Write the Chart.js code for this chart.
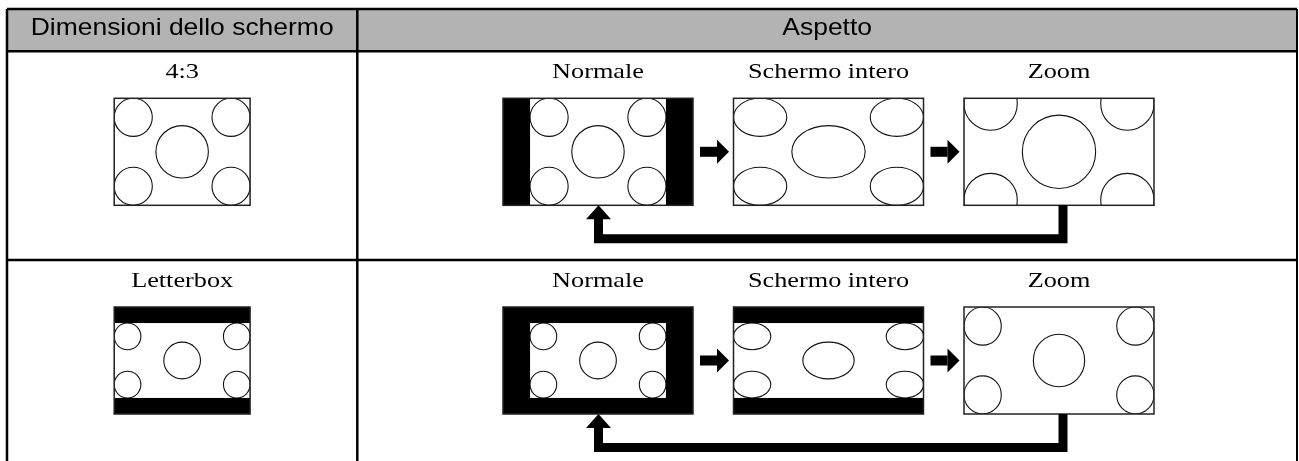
<!DOCTYPE html>
<html>
<head>
<meta charset="utf-8">
<script src="https://cdn.jsdelivr.net/npm/chart.js@4.4.1/dist/chart.umd.min.js"></script>
<style>
  html, body { margin: 0; padding: 0; background: #fff; }
  #wrap { width: 1299px; height: 461px; }
</style>
</head>
<body>
<div id="wrap"><canvas id="schermo" width="1299" height="461"></canvas></div>
<script>
// testi della tabella
const intestazioni = ["Dimensioni dello schermo", "Aspetto"];
const dimensioniSchermo = ["4:3", "Letterbox"];
const modiAspetto = ["Normale", "Schermo intero", "Zoom"];

// quadro sorgente: rapporto larghezza/altezza come disegnato, quota di altezza con l'immagine
const rapportoQuadro = [1.27, 1.27];
const quotaImmagine = [1, 0.70];

// cerchi dell'immagine: ancoraggio (0 bordo, 0.5 centro, 1 bordo opposto), raggio su altezza
const cerchiAncoraX = [0, 1, 0.5, 0, 1];
const cerchiAncoraY = [0, 0, 0.5, 1, 1];
const cerchiRaggio = [0.178, 0.178, 0.245, 0.178, 0.178];

// impaginazione (unita' degli assi)
const griglia = { sinistra: 7, destra: 1297, alto: 9, testata: 51.3, righe: [51.3, 260], basso: 480, colonna: 357.3 };
const pannello = { alto: 47, altezza: 107, larghezza: 190, primo: 503, passo: 230.5, base: 26.8 };

function centroPannello(j) {
    return pannello.primo + j * pannello.passo + pannello.larghezza / 2;
}

// come il quadro sorgente finisce sullo schermo 16:9 per ogni modo
function inquadra(modo, x0, y0, W, H, A, f) {
    let sx, sy;
    if (modo === 0) { sx = H; sy = H; }
    else if (modo === 1) { sx = W / A; sy = H; }
    else { sx = W / A; sy = Math.max(sx, H / f); }
    const cw = A * sx, ch = f * sy;
    return { cx: x0 + (W - cw) / 2, cy: y0 + (H - ch) / 2, cw: cw, ch: ch, allungo: sx / sy };
}

function disegnaQuadro(ctx, px, py, x0, y0, W, H, g) {
    const L = px(x0), T = py(y0), R = px(x0 + W), B = py(y0 + H);
    ctx.save();
    ctx.beginPath(); ctx.rect(L, T, R - L, B - T); ctx.clip();
    ctx.fillStyle = "#000"; ctx.fillRect(L, T, R - L, B - T);
    const cl = px(g.cx), ct = py(g.cy), cr = px(g.cx + g.cw), cb = py(g.cy + g.ch);
    ctx.fillStyle = "#fff"; ctx.fillRect(cl, ct, cr - cl, cb - ct);
    ctx.beginPath(); ctx.rect(cl, ct, cr - cl, cb - ct); ctx.clip();
    ctx.strokeStyle = "#111"; ctx.lineWidth = 1.1;
    cerchiRaggio.forEach((r, k) => {
        const ry = r * g.ch, rx = ry * g.allungo;
        const cx = g.cx + rx + cerchiAncoraX[k] * (g.cw - 2 * rx);
        const cy = g.cy + ry + cerchiAncoraY[k] * (g.ch - 2 * ry);
        ctx.beginPath();
        ctx.ellipse(px(cx), py(cy), Math.abs(px(cx + rx) - px(cx)), Math.abs(py(cy + ry) - py(cy)), 0, 0, Math.PI * 2);
        ctx.stroke();
    });
    ctx.restore();
    ctx.strokeStyle = "#222"; ctx.lineWidth = 1.5;
    ctx.strokeRect(L, T, R - L, B - T);
}

function scrivi(ctx, testo, x, y, font, allarga) {
    ctx.save();
    ctx.translate(x, y);
    ctx.scale(allarga, 1);
    ctx.font = font;
    ctx.fillStyle = "#000";
    ctx.textAlign = "center";
    ctx.textBaseline = "alphabetic";
    ctx.fillText(testo, 0, 0);
    ctx.restore();
}

const tabella = {
    id: "tabella",
    beforeDatasetsDraw(chart) {
        const ctx = chart.ctx;
        const px = v => chart.scales.x.getPixelForValue(v);
        const py = v => chart.scales.y.getPixelForValue(v);

        // testata grigia
        ctx.fillStyle = "#b3b3b3";
        ctx.fillRect(px(griglia.sinistra), py(griglia.alto), px(griglia.destra) - px(griglia.sinistra), py(griglia.testata) - py(griglia.alto));
        const c1 = (griglia.sinistra + griglia.colonna) / 2;
        const c2 = (griglia.colonna + griglia.destra) / 2;
        scrivi(ctx, intestazioni[0], px(c1), py(34.5), "24.5px 'Liberation Sans', Arial, sans-serif", 1.08);
        scrivi(ctx, intestazioni[1], px(c2), py(34.5), "24.5px 'Liberation Sans', Arial, sans-serif", 1.08);

        const W = pannello.larghezza, H = pannello.altezza;
        dimensioniSchermo.forEach((nome, i) => {
            const riga = griglia.righe[i];
            const y0 = riga + pannello.alto;
            const A = rapportoQuadro[i], f = quotaImmagine[i];
            const serif = "21px 'Liberation Serif', 'Times New Roman', serif";

            // sorgente
            scrivi(ctx, nome, px(c1), py(riga + pannello.base), serif, 1.25);
            const ws = A * H;
            disegnaQuadro(ctx, px, py, c1 - ws / 2, y0, ws, H, inquadra(0, c1 - ws / 2, y0, ws, H, A, f));

            // i tre modi
            modiAspetto.forEach((modo, j) => {
                const x0 = pannello.primo + j * pannello.passo;
                scrivi(ctx, modo, px(centroPannello(j)), py(riga + pannello.base), serif, 1.25);
                disegnaQuadro(ctx, px, py, x0, y0, W, H, inquadra(j, x0, y0, W, H, A, f));
                if (j < modiAspetto.length - 1) {
                    const r = x0 + W, ym = y0 + H / 2;
                    ctx.fillStyle = "#000";
                    ctx.fillRect(px(r + 7), py(ym - 5), px(r + 24) - px(r + 7), py(ym + 5) - py(ym - 5));
                    ctx.beginPath();
                    ctx.moveTo(px(r + 24), py(ym - 12));
                    ctx.lineTo(px(r + 36), py(ym));
                    ctx.lineTo(px(r + 24), py(ym + 12));
                    ctx.closePath();
                    ctx.fill();
                }
            });
        });

        // righe della tabella
        ctx.strokeStyle = "#000";
        ctx.lineWidth = 2.5;
        ctx.beginPath();
        ctx.moveTo(px(griglia.sinistra), py(griglia.alto)); ctx.lineTo(px(griglia.destra), py(griglia.alto));
        ctx.moveTo(px(griglia.sinistra), py(griglia.testata)); ctx.lineTo(px(griglia.destra), py(griglia.testata));
        ctx.moveTo(px(griglia.sinistra), py(griglia.righe[1])); ctx.lineTo(px(griglia.destra), py(griglia.righe[1]));
        ctx.moveTo(px(griglia.sinistra), py(griglia.alto)); ctx.lineTo(px(griglia.sinistra), py(griglia.basso));
        ctx.moveTo(px(griglia.colonna), py(griglia.alto)); ctx.lineTo(px(griglia.colonna), py(griglia.basso));
        ctx.stroke();
        ctx.lineWidth = 2;
        ctx.beginPath();
        ctx.moveTo(px(griglia.destra), py(griglia.alto)); ctx.lineTo(px(griglia.destra), py(griglia.basso));
        ctx.stroke();
    },
    afterDatasetsDraw(chart) {
        const ctx = chart.ctx;
        const px = v => chart.scales.x.getPixelForValue(v);
        const py = v => chart.scales.y.getPixelForValue(v);
        // punte delle frecce di ritorno
        ctx.fillStyle = "#000";
        griglia.righe.forEach(riga => {
            const b = riga + pannello.alto + pannello.altezza;
            const xc = centroPannello(0) + 0.5;
            ctx.beginPath();
            ctx.moveTo(px(xc - 12.5), py(b + 14));
            ctx.lineTo(px(xc), py(b));
            ctx.lineTo(px(xc + 12.5), py(b + 14));
            ctx.closePath();
            ctx.fill();
        });
    }
};

// frecce di ritorno Zoom -> Normale, come linee del grafico
const ritorni = griglia.righe.map(riga => {
    const b = riga + pannello.alto + pannello.altezza;
    const xz = centroPannello(modiAspetto.length - 1) + 4;
    const xn = centroPannello(0) + 0.5;
    return {
        data: [{ x: xz, y: b }, { x: xz, y: b + 33.5 }, { x: xn, y: b + 33.5 }, { x: xn, y: b + 13 }],
        showLine: true,
        borderColor: "#000",
        borderWidth: 9,
        borderJoinStyle: "miter",
        borderCapStyle: "butt",
        pointRadius: 0,
        tension: 0,
        clip: false
    };
});

new Chart(document.getElementById("schermo"), {
    type: "scatter",
    data: { datasets: ritorni },
    options: {
        responsive: false,
        animation: false,
        devicePixelRatio: 1,
        events: [],
        layout: { padding: 0 },
        plugins: { legend: { display: false }, tooltip: { enabled: false } },
        scales: {
            x: { type: "linear", min: 0, max: 1299, display: false },
            y: { type: "linear", min: 0, max: 461, reverse: true, display: false }
        }
    },
    plugins: [tabella]
});
</script>
</body>
</html>
